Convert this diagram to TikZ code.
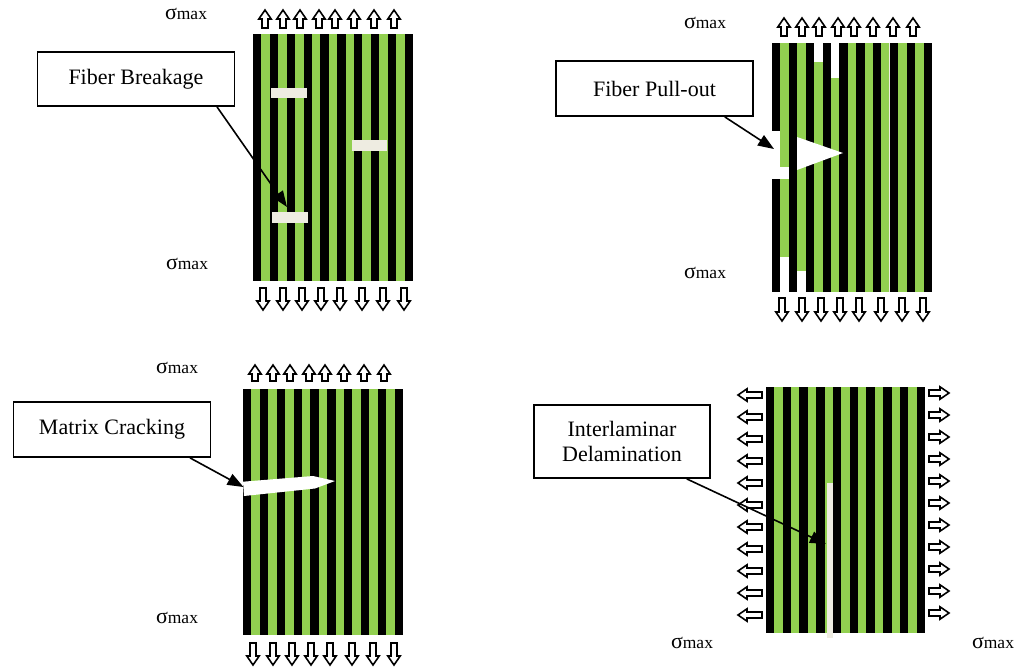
\documentclass[tikz,border=0pt]{standalone}
\usepackage{fontspec}
\setmainfont{Liberation Serif}
\usepackage{tikz}
\usetikzlibrary{arrows.meta}
\definecolor{fibergreen}{HTML}{92D050}
\definecolor{voidwhite}{HTML}{EEECE1}
\tikzstyle{label box}=[draw,line width=1.8pt,fill=white,minimum width=197pt,minimum height=54pt,font=\fontsize{22}{25}\selectfont,align=center,inner sep=0pt]
\tikzstyle{stress}=[font=\fontsize{17.5}{20}\selectfont,inner sep=0pt]
\tikzstyle{pointer}=[line width=1.6pt,-{Triangle[length=16pt,width=12pt]}]
\tikzstyle{loadarrow}=[draw=black,fill=white,line width=1.6pt,line join=miter]
\newcommand{\sigmax}{{\fontsize{22}{20}\selectfont σ}max}
\newcommand{\laminate}[4]{
  \fill[black] (#1,#2) rectangle ++(#3,#4);
  \foreach \i in {1,3,...,17}
    \fill[fibergreen] (#1+\i*#3/19,#2) rectangle ++(#3/19,#4);
}
\newcommand{\loadarrow}[4]{\draw[loadarrow,shift={(#1,#2)},rotate=#3] (0,-3) -- (#4-9,-3) -- (#4-9,-6.2) -- (#4,0) -- (#4-9,6.2) -- (#4-9,3) -- (0,3) -- cycle;}

\begin{document}
\begin{tikzpicture}[x=1pt,y=-1pt]
\useasboundingbox (0,0) rectangle (1015,670);
\laminate{253}{34}{160}{247}
\laminate{772}{43}{160}{249}
\laminate{243}{389}{160}{246}
\laminate{766}{387}{159}{246}

\fill[voidwhite] (271,88) rectangle (307,98);
\fill[voidwhite] (352,140) rectangle (387,151);
\fill[voidwhite] (272,212) rectangle (308,223);

\fill[white] (814.1,43) rectangle (822.5,62);
\fill[white] (830.9,43) rectangle (839.4,78);
\fill[white] (772,131) rectangle (780.4,179);
\fill[white] (780.4,167) rectangle (788.8,179);
\fill[white] (780.4,257) rectangle (788.8,292);
\fill[white] (797.3,271) rectangle (805.7,292);
\fill[white] (797,137) -- (843,153) -- (797,170) -- cycle;
\draw[voidwhite,line width=1pt] (889.9,43) -- (889.9,292);

\fill[white] (243,481.7) -- (313,476) -- (335,481) -- (315,488.5) -- (244,496) -- cycle;

\fill[voidwhite] (827,483) rectangle (833,638);

\foreach \dx in {12,30,47,66,82,101,121,141} {
  \loadarrow{253+\dx}{28}{90}{18}
  \loadarrow{772+\dx}{36}{90}{18}
  \loadarrow{243+\dx}{381}{90}{16}
}
\foreach \dx in {10,30,49,68,87,109,130,151} {
  \loadarrow{253+\dx}{288}{-90}{22}
  \loadarrow{772+\dx}{298}{-90}{23}
  \loadarrow{243+\dx}{643}{-90}{22}
}
\foreach \y in {395,417,439,461,483,505,527,549,571,593,615} {
  \loadarrow{762}{\y}{180}{24}
  \loadarrow{929}{\y-2}{0}{20}
}

\node[stress] (s1top) at (186,14) {\sigmax};
\node[stress] (s1bot) at (187,264) {\sigmax};
\node[stress] (s2top) at (705,23) {\sigmax};
\node[stress] (s2bot) at (705,273) {\sigmax};
\node[stress] (s3top) at (177,368) {\sigmax};
\node[stress] (s3bot) at (177,618) {\sigmax};
\node[stress] (s4left) at (692,643) {\sigmax};
\node[stress] (s4right) at (993,643) {\sigmax};

\node[label box] (breakage) at (136,79) {Fiber Breakage};
\node[label box,minimum height=55pt] (pullout) at (654.5,88.5) {Fiber Pull-out};
\node[label box,minimum height=55pt] (cracking) at (112,429.5) {Matrix Cracking};
\node[label box,minimum width=176pt,minimum height=73pt] (delam) at (622,441.5) {Interlaminar\\Delamination};

\coordinate (breakage tip) at (287,207);
\coordinate (pullout tip) at (774,149);
\coordinate (cracking tip) at (243.5,487);
\coordinate (delam tip) at (826,544);

\draw[pointer] (breakage.-19) -- (breakage tip);
\draw[pointer] (pullout.-22) -- (pullout tip);
\draw[pointer] (cracking.-20) -- (cracking tip);
\draw[pointer] (delam.-30) -- (delam tip);
\end{tikzpicture}
\end{document}
